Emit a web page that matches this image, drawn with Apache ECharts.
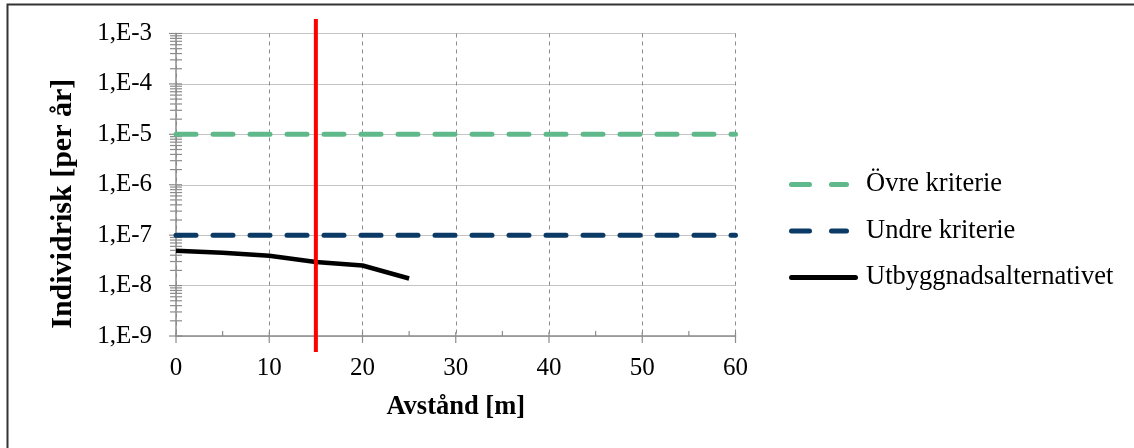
<!DOCTYPE html>
<html>
<head>
<meta charset="utf-8">
<script src="https://cdn.jsdelivr.net/npm/echarts@6/dist/echarts.min.js"></script>
<style>
  html, body { margin: 0; padding: 0; background: #fff; }
  #main { width: 1134px; height: 448px; }
</style>
</head>
<body>
<div id="main"></div>
<script>
// avstånd i meter
var distance = [0, 5, 10, 15, 20, 25]
// individrisk per år
var utbyggnad = [4.9e-8, 4.5e-8, 3.9e-8, 2.95e-8, 2.5e-8, 1.38e-8]
var ovreKriterie = [1e-5, 1e-5]
var undreKriterie = [1e-7, 1e-7]
var criteriaX = [0, 60]
var redLineX = 15
// tick values
var yDecades = [1e-9, 1e-8, 1e-7, 1e-6, 1e-5, 1e-4, 1e-3]
var xMajor = [0, 10, 20, 30, 40, 50, 60]
var xMinor = [5, 15, 25, 35, 45, 55]

var font = 'Liberation Serif, Times New Roman, serif'

// legend icons (dashes with round ends, tiny end mark keeps the box width)
var dashIcon = 'path://M2.5,0H20.5A2.5,2.5 0 0 1 20.5,5H2.5A2.5,2.5 0 0 1 2.5,0Z' +
  'M42.5,0H57.5A2.5,2.5 0 0 1 57.5,5H42.5A2.5,2.5 0 0 1 42.5,0Z' +
  'M71.9,2.45H72V2.55H71.9Z'
var solidIcon = 'path://M2.5,0H66.5A2.5,2.5 0 0 1 66.5,5H2.5A2.5,2.5 0 0 1 2.5,0Z' +
  'M71.9,2.45H72V2.55H71.9Z'

function pairs (xs, ys) {
  return xs.map(function (x, i) { return [x, ys[i]] })
}

// ticks on both axes (drawn through the axes' own scales)
var tickData = []
yDecades.forEach(function (d, i) {
  tickData.push([0, d, 0])
  if (i < yDecades.length - 1) {
    for (var k = 2; k <= 9; k++) tickData.push([0, k * d, 1])
  }
})
xMajor.forEach(function (v) { tickData.push([v, 1e-9, 2]) })
xMinor.forEach(function (v) { tickData.push([v, 1e-9, 3]) })

var chart = echarts.init(document.getElementById('main'))
chart.setOption({
  animation: false,
  textStyle: { fontFamily: font },
  graphic: [{
    type: 'polyline',
    shape: { points: [[7.5, 460], [7.5, 4.5], [1140, 4.5]] },
    style: { fill: null, stroke: '#333', lineWidth: 2 },
    silent: true
  }],
  grid: { left: 176, top: 33.5, right: 398.5, bottom: 112 },
  legend: {
    orient: 'vertical',
    left: 784,
    top: 166,
    itemWidth: 72,
    itemHeight: 5,
    itemGap: 19.5,
    data: [
      { name: 'Övre kriterie', icon: dashIcon },
      { name: 'Undre kriterie', icon: dashIcon },
      { name: 'Utbyggnadsalternativet', icon: solidIcon }
    ],
    textStyle: { fontFamily: font, fontSize: 26.5, color: '#000', lineHeight: 24 }
  },
  xAxis: {
    type: 'value',
    min: 0,
    max: 60,
    interval: 10,
    name: 'Avstånd [m]',
    nameLocation: 'middle',
    nameGap: 58,
    nameTextStyle: { fontFamily: font, fontSize: 26.5, fontWeight: 'bold', color: '#000' },
    axisLine: { lineStyle: { color: '#8c8c8c', width: 1.5 } },
    axisTick: { show: false },
    axisLabel: { fontFamily: font, fontSize: 25, color: '#000', margin: 20 },
    splitLine: { show: true, lineStyle: { color: '#8c8c8c', type: [4, 4], width: 1 } }
  },
  yAxis: [{
    type: 'log',
    logBase: 10,
    min: 1e-9,
    max: 1e-3,
    name: 'Individrisk [per år]',
    nameLocation: 'middle',
    nameGap: 98,
    nameTextStyle: { fontFamily: font, fontSize: 30, fontWeight: 'bold', color: '#000', padding: [0, 38, 0, 0] },
    axisLine: { show: true, lineStyle: { color: '#8c8c8c', width: 1.5 } },
    axisTick: { show: false },
    minorTick: { show: false },
    axisLabel: {
      fontFamily: font,
      fontSize: 25,
      color: '#000',
      margin: 24,
      formatter: function (v) {
        return '1,E' + Math.round(Math.log10(v))
      }
    },
    splitLine: { show: true, lineStyle: { color: '#c4c4c4', width: 1.2 } }
  }, {
    type: 'value',
    min: 0,
    max: 1,
    show: false
  }],
  series: [
    {
      name: 'Övre kriterie',
      type: 'line',
      data: pairs(criteriaX, ovreKriterie),
      symbol: 'none',
      color: '#5fb98b',
      lineStyle: { width: 5, type: [20, 17], cap: 'round', color: '#5fb98b' },
      z: 3
    },
    {
      name: 'Undre kriterie',
      type: 'line',
      data: pairs(criteriaX, undreKriterie),
      symbol: 'none',
      color: '#0b3a66',
      lineStyle: { width: 5, type: [20, 17], cap: 'round', color: '#0b3a66' },
      z: 3
    },
    {
      name: 'Utbyggnadsalternativet',
      type: 'line',
      data: pairs(distance, utbyggnad),
      symbol: 'none',
      color: '#000',
      lineStyle: { width: 4.5, color: '#000' },
      z: 4
    },
    {
      name: 'gräns',
      type: 'line',
      yAxisIndex: 1,
      data: [[redLineX, -0.053], [redLineX, 1.048]],
      symbol: 'none',
      clip: false,
      color: '#ff0000',
      lineStyle: { width: 4, color: '#ff0000' },
      z: 5
    },
    {
      name: 'ticks',
      type: 'custom',
      silent: true,
      clip: false,
      data: tickData,
      encode: { x: 0, y: 1 },
      renderItem: function (params, api) {
        var p = api.coord([api.value(0), api.value(1)])
        var kind = api.value(2)
        var shape
        if (kind === 0) shape = { x1: p[0] - 7, y1: p[1], x2: p[0] + 6, y2: p[1] }
        else if (kind === 1) shape = { x1: p[0] - 6, y1: p[1], x2: p[0] + 6, y2: p[1] }
        else if (kind === 2) shape = { x1: p[0], y1: p[1] - 4, x2: p[0], y2: p[1] + 7 }
        else shape = { x1: p[0], y1: p[1] - 5, x2: p[0], y2: p[1] }
        return {
          type: 'line',
          shape: shape,
          style: { stroke: '#8c8c8c', lineWidth: 1.2 }
        }
      },
      z: 2
    }
  ]
})
</script>
</body>
</html>
